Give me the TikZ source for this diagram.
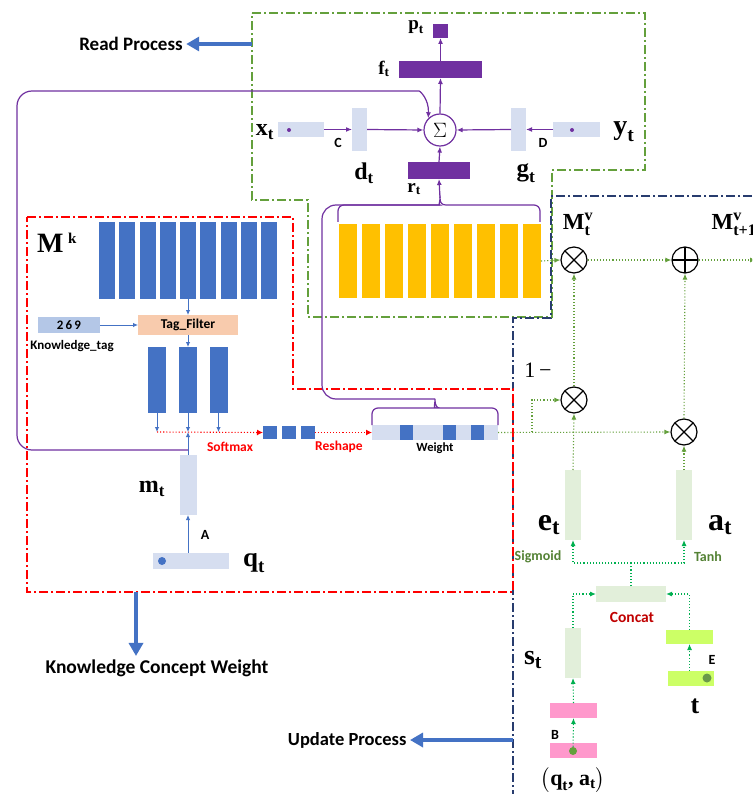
\documentclass[tikz,border=0pt]{standalone}
\usepackage{amsmath}
\usepackage{fontspec}
\setmainfont{Liberation Serif}
\newfontfamily\calib{Carlito}
\usetikzlibrary{arrows.meta}
\definecolor{vio}{RGB}{112,48,160}
\definecolor{kblue}{RGB}{68,114,196}
\definecolor{pale}{RGB}{214,222,240}
\definecolor{gold}{RGB}{255,192,0}
\definecolor{leaf}{RGB}{100,160,60}
\definecolor{moss}{RGB}{84,130,53}
\definecolor{mint}{RGB}{0,176,80}
\definecolor{navyline}{RGB}{40,60,110}
\definecolor{peach}{RGB}{248,203,173}
\definecolor{sky}{RGB}{180,199,231}
\definecolor{sage}{RGB}{226,239,218}
\definecolor{rose}{RGB}{255,153,204}
\definecolor{limey}{RGB}{204,255,102}
\definecolor{crimson}{RGB}{192,0,0}
\newcommand{\vsym}[2]{$\textbf{#1}_{\textbf{#2}}$}
\newcommand{\vsupsub}[3]{$\textbf{#1}^{\textbf{#2}}_{\textbf{#3}}$}

\begin{document}
\begin{tikzpicture}[x=1pt,y=-1pt,
  bar/.style={inner sep=0pt,outer sep=0pt},
  pline/.style={vio,line width=1.2pt},
  parrow/.style={pline,-{Latex[length=6pt,width=5pt]}},
  barrow/.style={kblue,line width=0.9pt,-{Latex[length=5pt,width=4.5pt]}},
  rdot/.style={red,dotted,line width=1.1pt,-{Latex[length=6pt,width=6pt]}},
  gdot/.style={leaf,dotted,line width=1.1pt,-{Latex[length=6pt,width=5pt]}},
  mdot/.style={mint,dotted,line width=1.1pt,-{Latex[length=6pt,width=5pt]}},
  frame/.style={line width=1.4pt,dash pattern=on 9pt off 3pt on 2pt off 3pt},
  big/.style={kblue,line width=4pt,-{Triangle[length=13pt,width=14pt]}},
  dotn/.style={circle,inner sep=0pt,minimum size=#1},
  ox/.style={circle,draw,line width=1.2pt,minimum size=26pt,inner sep=0pt,
    path picture={\draw[line width=1.2pt] (path picture bounding box.north west) -- (path picture bounding box.south east)
      (path picture bounding box.north east) -- (path picture bounding box.south west);}},
  op/.style={circle,draw,line width=1.2pt,minimum size=26pt,inner sep=0pt,
    path picture={\draw[line width=1.2pt] (path picture bounding box.north) -- (path picture bounding box.south)
      (path picture bounding box.east) -- (path picture bounding box.west);}},
  sans/.style={font=\calib\bfseries\fontsize{#1}{#1}\selectfont},
  ser/.style={font=\bfseries\fontsize{#1}{#1}\selectfont}]
\clip (0,0) rectangle (752,794);
\fill[white] (0,0) rectangle (752,794);

\draw[frame,leaf] (252,13) -- (645,13) -- (645,170) -- (552,170) -- (552,317) -- (308,317) -- (308,200) -- (252,200) -- cycle;
\draw[frame,navyline] (752,196) -- (551,196) -- (551,318) -- (513,318) -- (513,794);
\draw[frame,red] (27,217) -- (293,217) -- (293,389) -- (513,389) -- (513,592) -- (27,592) -- cycle;

\node[sans=19] (rp) at (131,44) {Read Process};
\coordinate (rpstart) at (252,44);
\draw[big] (rpstart) -- (rp.east);

\node[circle,draw=vio,line width=1.2pt,fill=white,minimum size=32pt,inner sep=0pt] (sum) at (440,130) {\fontsize{20}{20}\selectfont$\Sigma$};
\node[bar,fill=vio,minimum width=15pt,minimum height=14pt] (pt) at (440.5,31) {};
\node[bar,fill=vio,minimum width=83pt,minimum height=17pt] (ft) at (440.5,69.5) {};
\node[bar,fill=vio,minimum width=62pt,minimum height=17pt] (rt) at (439,170.5) {};
\node[bar,fill=pale,minimum width=46pt,minimum height=15pt] (xt) at (301,129.5) {};
\node[dotn=4pt,fill=vio] (xdot) at (289,130) {};
\node[bar,fill=pale,minimum width=15pt,minimum height=43pt] (dt) at (359.5,129.5) {};
\node[bar,fill=pale,minimum width=15pt,minimum height=43pt] (gt) at (518.5,129.5) {};
\node[bar,fill=pale,minimum width=47pt,minimum height=15pt] (yt) at (576.5,129.5) {};
\node[dotn=4pt,fill=vio] (ydot) at (572,130) {};
\node[ser=19] (lpt) at (416,27) {\vsym{p}{t}};
\node[ser=19] (lft) at (384,69) {\vsym{f}{t}};
\node[ser=19] (lrt) at (414,189) {\vsym{r}{t}};
\node[ser=24] (lxt) at (265,132) {\vsym{x}{t}};
\node[sans=14] (lc) at (338,143) {C};
\node[ser=24] (ldt) at (364,173) {\vsym{d}{t}};
\node[sans=14] (ld) at (543,143) {D};
\node[ser=25] (lgt) at (526,173) {\vsym{g}{t}};
\node[ser=28] (lyt) at (624,132) {\vsym{y}{t}};
\draw[parrow] (sum.north) -- (ft.south);
\draw[parrow] (ft.north) -- (pt.south);
\draw[parrow] (rt.north) -- (sum.south);
\draw[parrow] (xt.east) -- (dt.west);
\draw[parrow] (dt.east) -- (sum.west);
\draw[parrow] (yt.west) -- (gt.east);
\draw[parrow] (gt.west) -- (sum.east);

\foreach \i in {0,...,8}
  \node[bar,fill=gold,minimum width=18pt,minimum height=74pt] (mv\i) at (348+23*\i,261) {};
\coordinate (rtip) at (440,198);
\coordinate (wtip) at (435,399);
\draw[pline] (338,222) [rounded corners=6pt] -- (338,205) -- (434,205) [sharp corners] .. controls (438,205) and (440,203) .. (rtip) .. controls (440,203) and (442,205) .. (446,205) [rounded corners=6pt] -- (540,205) -- (540,222);
\draw[pline,rounded corners=14pt] (wtip) -- (322,399) -- (322,205) -- (440,205);
\draw[parrow] (rtip) -- (rt.south);

\foreach \i in {0,...,8}
  \node[bar,fill=kblue,minimum width=16pt,minimum height=77pt] (mk\i) at (107+20.25*\i,260.5) {};
\node[ser=28] (lmk) at (57,243) {\textbf{M}\,\textsuperscript{\fontsize{15}{15}\selectfont k}};
\node[bar,fill=peach,minimum width=100pt,minimum height=20pt,sans=13.5] (tag) at (188,325) {Tag\_Filter};
\node[bar,fill=sky,minimum width=62pt,minimum height=16pt,sans=13] (kt) at (69,325) {2\,6\,9};
\node[sans=13] (lkt) at (72,346) {Knowledge\_tag};
\draw[barrow] (mk4.south) -- (tag.north);
\draw[barrow] (kt.east) -- (tag.west);
\node[bar,fill=kblue,minimum width=18pt,minimum height=66pt] (fb1) at (157,380) {};
\node[bar,fill=kblue,minimum width=18pt,minimum height=66pt] (fb2) at (188,380) {};
\node[bar,fill=kblue,minimum width=18pt,minimum height=66pt] (fb3) at (218.5,380) {};
\draw[barrow] (tag.south) -- (fb2.north);
\coordinate (jn) at (188,432);
\draw[barrow] (fb1.south) -- (fb1.south |- jn);
\draw[barrow] (fb2.south) -- (jn);
\draw[barrow] (fb3.south) -- (fb3.south |- jn);
\node[bar,fill=kblue,minimum width=14pt,minimum height=13pt] (sq1) at (270,432.5) {};
\node[bar,fill=kblue,minimum width=14pt,minimum height=13pt] (sq2) at (289,432.5) {};
\node[bar,fill=kblue,minimum width=14pt,minimum height=13pt] (sq3) at (307.5,432.5) {};
\node[bar,fill=pale,minimum width=126pt,minimum height=15pt] (wbar) at (435,432.5) {};
\node[bar,fill=kblue,minimum width=13pt,minimum height=15pt] (w1) at (406.5,432.5) {};
\node[bar,fill=kblue,minimum width=13pt,minimum height=15pt] (w2) at (449.5,432.5) {};
\node[bar,fill=kblue,minimum width=13pt,minimum height=15pt] (w3) at (477,432.5) {};
\draw[rdot] (fb1.south |- jn) -- (sq1.west);
\draw[rdot] (sq3.east) -- (wbar.west);
\node[sans=13.5,red] (lsm) at (230,447) {Softmax};
\node[sans=13.5,red] (lrs) at (339,447) {Reshape};
\node[sans=12.5] (lw) at (435,448) {Weight};
\draw[pline] (372,425) [rounded corners=6pt] -- (372,408) -- (430,408) [sharp corners] .. controls (433,408) and (435,406) .. (wtip) .. controls (435,406) and (437,408) .. (440,408) [rounded corners=6pt] -- (498,408) -- (498,425);

\node[bar,fill=pale,minimum width=17pt,minimum height=60pt] (mt) at (188,485) {};
\node[bar,fill=pale,minimum width=76pt,minimum height=16pt] (qt) at (191,561) {};
\node[dotn=8pt,fill=kblue] (qdot) at (162,561) {};
\node[ser=24] (lmt) at (152,489) {\vsym{m}{t}};
\node[ser=27] (lqt) at (254,563) {\vsym{q}{t}};
\node[sans=14] (la) at (205,535) {A};
\draw[barrow] (qt.north -| mt) -- (mt.south);
\draw[barrow] (mt.north) -- (jn);
\coordinate (mtj) at (188,450);
\draw[parrow,rounded corners=15pt] (mtj) -- (17,450) -- (17,91) -- (404,91) [sharp corners] .. controls (420,91) and (429,99) .. (sum.north west);

\coordinate (kcwstart) at (136,592);
\node[sans=19.5] (kcw) at (157,668) {Knowledge Concept Weight};
\draw[big] (kcwstart) -- (kcwstart |- kcw.north);

\node[ox] (ot1) at (574,260) {};
\node[op] (opl) at (685,260) {};
\node[ox] (ot2) at (574,400) {};
\node[ox] (ot3) at (684,432) {};
\node[ser=23] (lmv) at (578,224) {\vsupsub{M}{v}{t}};
\node[ser=23,anchor=west] (lmv1) at (708,224) {\vsupsub{M}{v}{t+1}};
\node[font=\fontsize{22}{22}\selectfont] (lone) at (538,370) {1\,\textminus};
\coordinate (mvout) at (756,260);
\draw[gdot] (mv8.east) -- (ot1.west);
\draw[gdot] (ot1.east) -- (opl.west);
\draw[gdot] (opl.east) -- (mvout);
\coordinate (br) at (532,432);
\draw[gdot] (wbar.east) -- (ot3.west);
\draw[gdot] (br) -- (532,400) -- (ot2.west);

\node[bar,fill=sage,minimum width=16pt,minimum height=70pt] (et) at (573,505) {};
\node[bar,fill=sage,minimum width=16pt,minimum height=70pt] (at) at (684,505) {};
\node[ser=32] (let) at (549,525) {\vsym{e}{t}};
\node[ser=32] (lat) at (720,525) {\vsym{a}{t}};
\draw[gdot] (et.north) -- (ot2.south);
\draw[gdot] (ot2.north) -- (ot1.south);
\draw[gdot] (at.north) -- (ot3.south);
\draw[gdot] (ot3.north) -- (opl.south);
\node[sans=14,moss] (lsig) at (538,557) {Sigmoid};
\node[sans=14,moss] (ltanh) at (708,557) {Tanh};

\node[bar,fill=sage,minimum width=70pt,minimum height=16pt] (cc) at (631,594) {};
\node[sans=15.5,crimson] (lcc) at (632,617) {Concat};
\coordinate (split) at (631,563);
\draw[mint,dotted,line width=1.1pt] (cc.north) -- (split);
\draw[mdot] (split) -- (et.south |- split) -- (et.south);
\draw[mdot] (split) -- (at.south |- split) -- (at.south);
\node[bar,fill=sage,minimum width=16pt,minimum height=50pt] (st) at (573,653) {};
\node[ser=28] (lst) at (533,660) {\vsym{s}{t}};
\draw[mdot] (st.north) -- (st.north |- cc) -- (cc.west);
\node[bar,fill=rose,minimum width=47pt,minimum height=15pt] (pk1) at (573.5,710.5) {};
\node[bar,fill=rose,minimum width=47pt,minimum height=15pt] (pk2) at (573.5,750.5) {};
\node[dotn=8pt,fill=leaf] (pdot) at (573,751) {};
\draw[mdot] (pk1.north) -- (st.south);
\draw[mdot] (pdot) -- (pk1.south);
\node[sans=14] (lb) at (555,735) {B};
\node[ser=22] (lqa) at (573,780) {$\bigl($\vsym{q}{t}, \vsym{a}{t}$\bigr)$};
\node[bar,fill=limey,minimum width=47pt,minimum height=14pt] (lm1) at (689.5,637) {};
\node[bar,fill=limey,minimum width=46pt,minimum height=15pt] (lm2) at (691,678.5) {};
\node[dotn=9pt,fill=leaf!80!gray] (tdot) at (707,678) {};
\draw[mdot] (lm2.north -| lm1) -- (lm1.south);
\draw[mdot] (lm1.north) -- (lm1.north |- cc) -- (cc.east);
\node[sans=14] (le) at (712,660) {E};
\node[ser=26] (ltt) at (695,706) {\textbf{t}};

\node[sans=18.5,anchor=east] (up) at (410,740) {Update Process};
\coordinate (upstart) at (513,740);
\draw[big] (upstart) -- (up.east);
\end{tikzpicture}
\end{document}
